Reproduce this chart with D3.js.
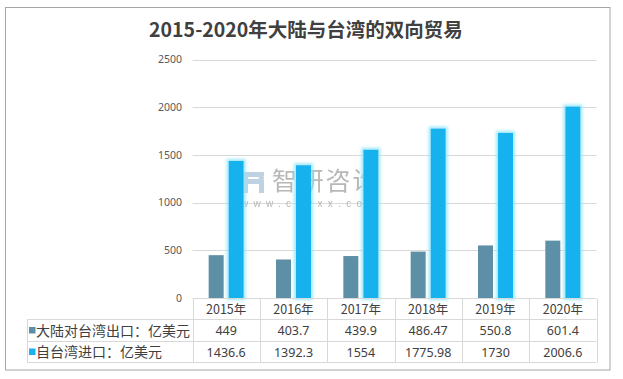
<!DOCTYPE html>
<html><head><meta charset="utf-8">
<script src="https://cdn.jsdelivr.net/npm/d3@7"></script>
<style>
html,body{margin:0;padding:0;background:#fff;}
svg{display:block;}
</style>
</head><body>
<svg id="c" width="623" height="379"></svg>
<script>
const title = "2015-2020年大陆与台湾的双向贸易";
const years = ["2015年","2016年","2017年","2018年","2019年","2020年"];
const seriesNames = ["大陆对台湾出口：亿美元","自台湾进口：亿美元"];
const exportVals = [449, 403.7, 439.9, 486.47, 550.8, 601.4];
const importVals = [1436.6, 1392.3, 1554, 1775.98, 1730, 2006.6];
const yTicks = [0, 500, 1000, 1500, 2000, 2500];
const colors = ["#5d8fa6", "#19b2ee"];

const svg = d3.select("#c");
const font = "'Noto Sans','Noto Sans CJK SC',sans-serif";
const cjk = "'Noto Sans CJK SC','Noto Sans',sans-serif";

// glow filter
const defs = svg.append("defs");
const f = defs.append("filter").attr("id","glow").attr("x","-50%").attr("y","-10%").attr("width","200%").attr("height","120%");
f.append("feMorphology").attr("in","SourceAlpha").attr("operator","dilate").attr("radius",1.5).attr("result","d");
f.append("feGaussianBlur").attr("in","d").attr("stdDeviation",1.6).attr("result","b");
f.append("feFlood").attr("flood-color","#8fe6f8").attr("flood-opacity",0.85);
f.append("feComposite").attr("in2","b").attr("operator","in").attr("result","g");
const m = f.append("feMerge");
m.append("feMergeNode").attr("in","g");
m.append("feMergeNode").attr("in","SourceGraphic");

// outer frame
svg.append("rect").attr("x",5.5).attr("y",7.5).attr("width",604.5).attr("height",362.5)
  .attr("fill","#fff").attr("stroke","#a6a6a6").attr("stroke-width",1);

// title
svg.append("text").attr("x",306).attr("y",37).attr("text-anchor","middle")
  .attr("font-family",cjk).attr("font-weight","bold").attr("font-size",19.5)
  .attr("fill","#404040").text(title);

const x = d3.scaleBand().domain(years).range([192.5, 596.5]).paddingInner(0.48).paddingOuter(0.24);
const xs = d3.scaleBand().domain([0,1]).range([0, x.bandwidth()]).paddingInner(0.25);
const y = d3.scaleLinear().domain([0, 2500]).range([298, 59.5]);

// gridlines
svg.append("g").selectAll("line").data(yTicks.filter(t=>t>0)).join("line")
  .attr("x1",192.5).attr("x2",596.5)
  .attr("y1",d=>Math.round(y(d))+0.5).attr("y2",d=>Math.round(y(d))+0.5)
  .attr("stroke","#d9d9d9").attr("stroke-width",1);

// y axis labels
const yAxis = d3.axisLeft(y).tickValues(yTicks).tickFormat(d3.format("d")).tickSize(0).tickPadding(10.5);
const ga = svg.append("g").attr("transform","translate(192.5,0)").call(yAxis);
ga.select(".domain").remove();
ga.selectAll("text").attr("font-family",font).attr("font-size",10.5).attr("fill","#595959");

// watermark
const wm = svg.append("g").attr("opacity",0.75);
wm.append("path").attr("d","M242,172h16a6,6 0 0 1 0,12h-10v9h-6z M248,177v2h10a1,1 0 0 0 0,-2z")
  .attr("fill","#a9c4dc").attr("fill-rule","evenodd");
wm.append("rect").attr("x",259).attr("y",172).attr("width",5).attr("height",4).attr("fill","#a9c4dc");
wm.append("rect").attr("x",259).attr("y",180).attr("width",5).attr("height",13).attr("fill","#a9c4dc");
wm.append("text").attr("x",272).attr("y",190).attr("font-family",cjk).attr("font-size",25)
  .attr("letter-spacing",1.8).attr("fill","#a0a0a0").text("智研咨询");
wm.append("text").attr("x",241).attr("y",206.5).attr("font-family","'Liberation Sans',sans-serif").attr("font-size",10)
  .attr("letter-spacing",5.3).attr("fill","#a0a0a0").text("www.chyxx.com");

// bars
const data = years.map((yr,i)=>({yr, vals:[exportVals[i], importVals[i]]}));
const gb = svg.append("g");
data.forEach(d=>{
  d.vals.forEach((v,j)=>{
    gb.append("rect")
      .attr("x", x(d.yr)+xs(j)).attr("width", xs.bandwidth())
      .attr("y", y(v)).attr("height", y(0)-y(v))
      .attr("fill", colors[j])
      .attr("filter", j===1 ? "url(#glow)" : null);
  });
});

// data table
const gridC = "#d9d9d9";
const rowTop = [298.5, 319.5, 341.5, 362.5];
const tleft = 27.5, tmid = 192.5, tright = 596.5;
const gt = svg.append("g").attr("stroke",gridC).attr("stroke-width",1).attr("fill","none");
gt.append("line").attr("x1",tmid).attr("x2",tright).attr("y1",rowTop[0]).attr("y2",rowTop[0]);
for (let r=1;r<4;r++) gt.append("line").attr("x1",tleft).attr("x2",tright).attr("y1",rowTop[r]).attr("y2",rowTop[r]);
gt.append("line").attr("x1",tleft).attr("x2",tleft).attr("y1",rowTop[1]).attr("y2",rowTop[3]);
const colEdges = years.map(yr=>x(yr)-x.step()*0.24).concat([tright]);
colEdges.forEach((cx,i)=>{
  gt.append("line").attr("x1",Math.round(cx)+0.5).attr("x2",Math.round(cx)+0.5)
    .attr("y1",rowTop[0]).attr("y2",rowTop[3]);
});

// header row
svg.append("g").selectAll("text").data(years).join("text")
  .attr("x",d=>x(d)+x.bandwidth()/2).attr("y",(rowTop[0]+rowTop[1])/2+4.5)
  .attr("text-anchor","middle").attr("font-family",cjk).attr("font-size",12.5)
  .attr("fill","#404040").text(d=>d);

// series rows
[exportVals, importVals].forEach((vals,r)=>{
  const cy = (rowTop[r+1]+rowTop[r+2])/2;
  svg.append("rect").attr("x",29).attr("y",cy-3.5).attr("width",6.5).attr("height",6.5).attr("fill",colors[r]);
  svg.append("text").attr("x",36).attr("y",cy+5).attr("font-family",cjk).attr("font-size",14)
    .attr("fill","#404040").text(seriesNames[r]);
  svg.append("g").selectAll("text").data(vals).join("text")
    .attr("x",(d,i)=>x(years[i])+x.bandwidth()/2).attr("y",cy+4.5)
    .attr("text-anchor","middle").attr("font-family",font).attr("font-size",12.5)
    .attr("fill","#404040").text(d=>d);
});
</script>
</body></html>
